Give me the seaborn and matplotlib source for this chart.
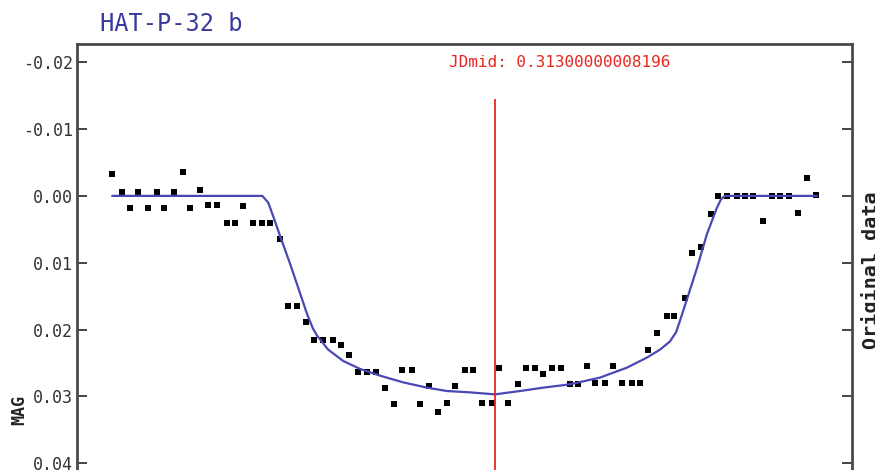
import matplotlib
matplotlib.use("Agg")
import matplotlib.pyplot as plt
import seaborn as sns
import pandas as pd

# Observation times (days, fractional JD) and differential magnitudes
obs_time = [
    0.2030, 0.2059, 0.2082, 0.2106, 0.2135, 0.2159, 0.2181, 0.2209, 0.2234, 0.2255,
    0.2283, 0.2307, 0.2331, 0.2360, 0.2384, 0.2408, 0.2436, 0.2462, 0.2484, 0.2513,
    0.2537, 0.2561, 0.2588, 0.2611, 0.2636, 0.2664, 0.2687, 0.2711, 0.2738, 0.2763,
    0.2789, 0.2814, 0.2840, 0.2862, 0.2891, 0.2915, 0.2941, 0.2967, 0.2991, 0.3015,
    0.3044, 0.3068, 0.3092, 0.3121, 0.3143, 0.3168, 0.3196, 0.3220, 0.3245, 0.3268,
    0.3293, 0.3319, 0.3344, 0.3369, 0.3393, 0.3417, 0.3446, 0.3470, 0.3494, 0.3522,
    0.3546, 0.3570, 0.3596, 0.3623, 0.3645, 0.3675, 0.3697, 0.3721, 0.3749, 0.3771,
    0.3795, 0.3824, 0.3848, 0.3871, 0.3900, 0.3924, 0.3948, 0.3975, 0.4000, 0.4025,
    0.4053,
]
obs_mag = [
    -0.0033, -0.0006, 0.0018, -0.0006, 0.0018, -0.0006, 0.0018, -0.0006, -0.0035, 0.0018,
    -0.0009, 0.0014, 0.0014, 0.0040, 0.0040, 0.0015, 0.0040, 0.0040, 0.0040, 0.0065,
    0.0165, 0.0165, 0.0188, 0.0215, 0.0215, 0.0215, 0.0223, 0.0238, 0.0263, 0.0263,
    0.0263, 0.0288, 0.0312, 0.0260, 0.0260, 0.0312, 0.0284, 0.0323, 0.0310, 0.0284,
    0.0260, 0.0260, 0.0310, 0.0310, 0.0257, 0.0310, 0.0282, 0.0257, 0.0257, 0.0267,
    0.0257, 0.0257, 0.0282, 0.0282, 0.0255, 0.0280, 0.0280, 0.0255, 0.0280, 0.0280,
    0.0280, 0.0230, 0.0205, 0.0179, 0.0179, 0.0153, 0.0085, 0.0077, 0.0027, 0.0000,
    0.0000, 0.0000, 0.0000, 0.0000, 0.0037, 0.0000, 0.0000, 0.0000, 0.0025, -0.0027,
    -0.0002,
]

# Fitted transit model
model_time = [
    0.2031, 0.2462, 0.2479, 0.2493, 0.2513, 0.2542, 0.2570, 0.2590, 0.2607, 0.2619,
    0.2651, 0.2694, 0.2743, 0.2800, 0.2866, 0.2935, 0.2992, 0.3058, 0.3130, 0.3202,
    0.3268, 0.3345, 0.3431, 0.3509, 0.3566, 0.3604, 0.3632, 0.3650, 0.3661, 0.3681,
    0.3710, 0.3738, 0.3767, 0.3779, 0.3790, 0.4054,
]
model_mag = [
    0.0000, 0.0000, 0.0010, 0.0030, 0.0060, 0.0102, 0.0145, 0.0176, 0.0198, 0.0209,
    0.0230, 0.0247, 0.0259, 0.0269, 0.0279, 0.0287, 0.0292, 0.0294, 0.0297, 0.0292,
    0.0287, 0.0282, 0.0272, 0.0257, 0.0242, 0.0230, 0.0218, 0.0204, 0.0187, 0.0155,
    0.0108, 0.0058, 0.0018, 0.0005, 0.0000, 0.0000,
]

jd_mid = 0.31300000008196
planet = "HAT-P-32 b"
y_ticks = [-0.02, -0.01, 0.00, 0.01, 0.02, 0.03, 0.04]

obs = pd.DataFrame({"time": obs_time, "mag": obs_mag})
model = pd.DataFrame({"time": model_time, "mag": model_mag})

sns.set_theme(style="white")
plt.rcParams["font.family"] = ["DejaVu Sans Mono", "DejaVu Sans"]

fig = plt.figure(figsize=(8.75, 4.70), dpi=100)
ax = fig.add_axes([0.088, -0.0566, 0.8857, 0.964])

sns.scatterplot(data=obs, x="time", y="mag", ax=ax, marker="s", s=19,
                color="black", edgecolor="black", linewidth=0, zorder=3)
sns.lineplot(data=model, x="time", y="mag", ax=ax, color="#4a48b4",
             linewidth=1.6, zorder=4)

ax.vlines(jd_mid, -0.0145, 0.045, color="#e8261f", linewidth=1.3, zorder=5)
ax.text(0.3317, -0.0200, f"JDmid: {jd_mid:.14f}", color="#e8261f",
        fontsize=11.5, ha="center", va="center")

ax.set_xlim(0.1930, 0.4155)
ax.set_ylim(0.045, -0.0228)
ax.set_yticks(y_ticks)
ax.set_yticklabels([f"{v:.2f}" for v in y_ticks])
ax.set_xticks([])
ax.set_xlabel("")
ax.set_ylabel("")

ax.tick_params(axis="y", which="both", direction="in", left=True, right=True,
               length=7, width=1.4, color="#444444", labelsize=12,
               labelcolor="#333333", pad=3)
for side in ["left", "right", "top", "bottom"]:
    ax.spines[side].set_color("#4a4a4a")
    ax.spines[side].set_linewidth(2)

fig.text(100 / 875, 1 - 24 / 470, planet, color="#3a3a9c", fontsize=17,
         ha="left", va="center")
fig.text(19 / 875, 1 - 410 / 470, "MAG", rotation=90, fontsize=12,
         fontweight="bold", color="#222222", ha="center", va="center")
fig.text(861 / 875, 1 - 270 / 470, "Original data", rotation=90, fontsize=14.5,
         fontweight="bold", color="#222222", ha="left", va="center")

fig.savefig("out.png", dpi=100, facecolor="white")
